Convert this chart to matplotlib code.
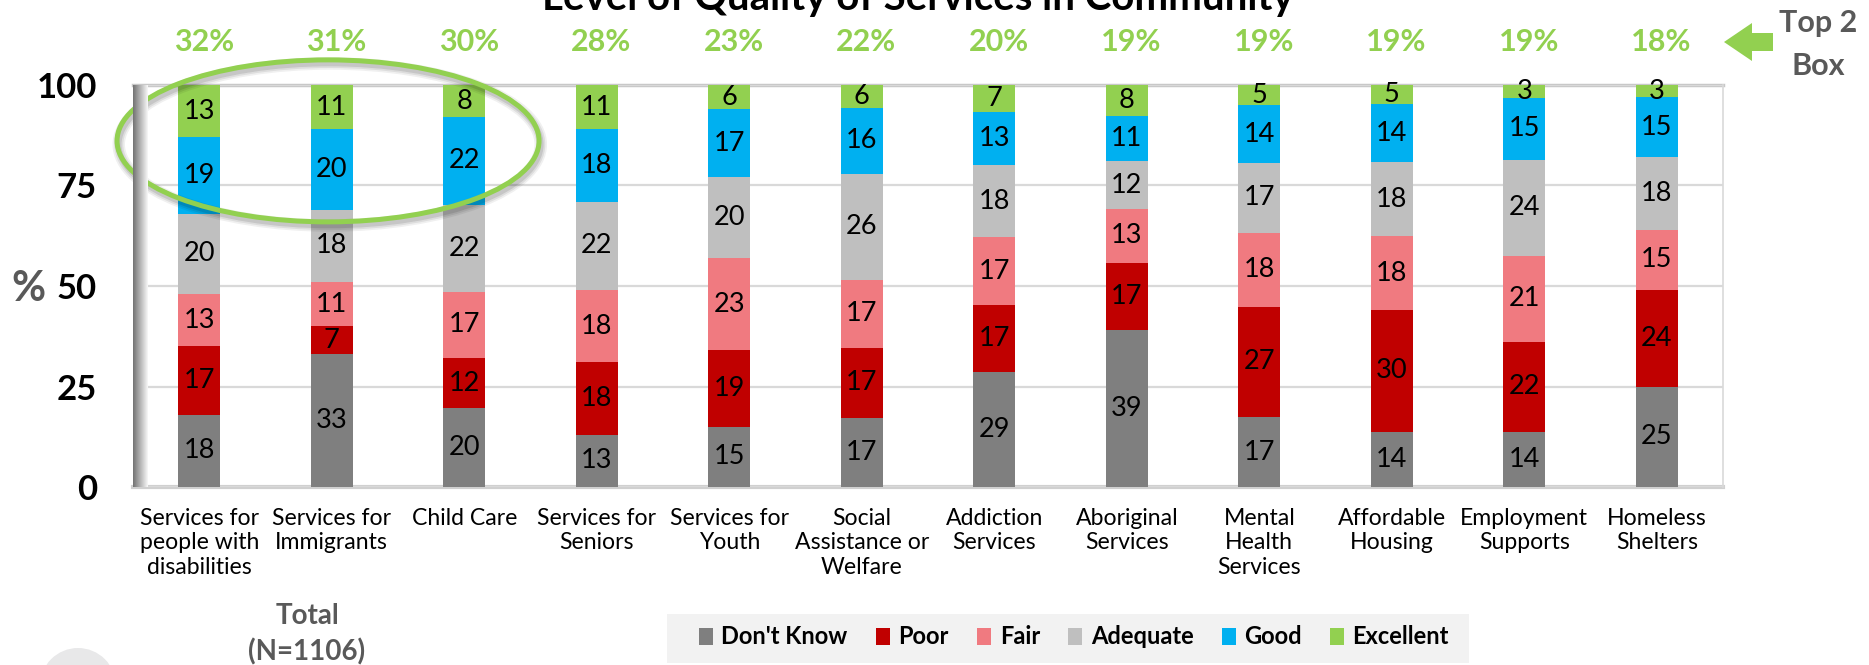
import matplotlib
matplotlib.use("Agg")
import matplotlib.pyplot as plt
import numpy as np
from matplotlib.patches import Ellipse, Polygon, Rectangle

plt.rcParams['font.family'] = ['Lato', 'DejaVu Sans']

W, H = 1869, 665

categories = ["Services for\npeople with\ndisabilities", "Services for\nImmigrants", "Child Care",
              "Services for\nSeniors", "Services for\nYouth", "Social\nAssistance or\nWelfare",
              "Addiction\nServices", "Aboriginal\nServices", "Mental\nHealth\nServices",
              "Affordable\nHousing", "Employment\nSupports", "Homeless\nShelters"]
dont_know = [18, 33, 19.6, 13, 15, 17.2, 28.6, 39, 17.4, 13.8, 13.8, 25]
poor      = [17, 7, 12.4, 18, 19, 17.4, 16.7, 16.8, 27.4, 30.2, 22.3, 24]
fair      = [13, 11, 16.6, 18, 23, 16.9, 16.8, 13.4, 18.4, 18.4, 21.4, 15]
adequate  = [20, 18, 21.6, 22, 20, 26.4, 17.9, 11.8, 17.4, 18.4, 23.9, 18]
good      = [19, 20, 21.8, 18, 17, 16.4, 13.4, 11.4, 14.4, 14.4, 15.4, 15]
excellent = [13, 11, 8.0, 11, 6, 5.7, 6.6, 7.6, 5.0, 4.8, 3.2, 3]
top2_box  = [32, 31, 30, 28, 23, 22, 20, 19, 19, 19, 19, 18]
series_names = ["Don't Know", "Poor", "Fair", "Adequate", "Good", "Excellent"]
colors = ["#7F7F7F", "#C00000", "#F07A80", "#BFBFBF", "#00B0F0", "#92D050"]
yticks = [0, 25, 50, 75, 100]

def fx(px):
    return px / W

def fy(py):
    return 1 - py / H

fig = plt.figure(figsize=(W / 100, H / 100), dpi=100)
ax = fig.add_axes([fx(133), fy(487), (1723 - 133) / W, (487 - 85) / H])

x = np.arange(len(categories))
bottom = np.zeros(len(categories))
for name, vals, col in zip(series_names, [dont_know, poor, fair, adequate, good, excellent], colors):
    vals = np.array(vals, dtype=float)
    bars = ax.bar(x, vals, 0.316, bottom=bottom, color=col, label=name, zorder=3)
    ax.bar_label(bars, labels=[f"{v:.0f}" for v in vals], label_type='center',
                 fontsize=19.5, color='black', zorder=4)
    bottom += vals

ax.set_xlim(-0.5, len(categories) - 0.5)
ax.set_ylim(0, 100)
ax.set_yticks(yticks)
ax.tick_params(axis='y', length=0, pad=26, labelsize=25)
for lbl in ax.get_yticklabels():
    lbl.set_fontweight('bold')
ax.set_xticks(x, categories)
ax.tick_params(axis='x', length=0, pad=15, labelsize=16.6)
ax.grid(axis='y', color='#D9D9D9', lw=1.6, zorder=0)
ax.axhline(100, color='#C8C8C8', lw=2.5, zorder=1, clip_on=False)
ax.axhline(0, color='#D0D0D0', lw=3, zorder=1, clip_on=False)
for s in ['top', 'bottom', 'left']:
    ax.spines[s].set_visible(False)
ax.spines['right'].set_color('#D9D9D9')
ax.spines['right'].set_linewidth(1.2)

# 3D side wall
wall = fig.add_axes([fx(133), fy(487), 15 / W, (487 - 85) / H])
grad = np.linspace(0.45, 0.97, 50).reshape(1, -1)
wall.imshow(grad, aspect='auto', cmap='gray', vmin=0, vmax=1, extent=[0, 1, 0, 1])
wall.set_axis_off()

# Top 2 box values
for i, t in enumerate(top2_box):
    ax.text(i + 0.035, 110.6, f"{t}%", ha='center', va='center', color='#92D050',
            fontsize=22, fontweight='bold', clip_on=False)

# highlight ellipse with shadow
for k, a in enumerate([0.10, 0.08, 0.06]):
    ax.add_patch(Ellipse((0.985, 85.2), 3.185, 40.3, fill=False, ec='black',
                         lw=4 + 2.5 * k, alpha=a, zorder=5, clip_on=False))
ax.add_patch(Ellipse((0.972, 86.1), 3.185, 40.3, fill=False, ec='#92D050',
                     lw=3.6, zorder=6, clip_on=False))

# title (partially cut at the top, as in the reference)
fig.text(fx(918), fy(10), "Level of Quality of Services in Community", ha='center',
         va='baseline', fontsize=29, fontweight='bold', color='black')

fig.text(fx(28), fy(289), "%", ha='center', va='center', fontsize=30,
         fontweight='bold', color='#595959')

# Top 2 Box marker
fig.text(fx(1818), fy(23), "Top 2", ha='center', va='center', fontsize=22,
         fontweight='bold', color='#595959')
fig.text(fx(1818), fy(66), "Box", ha='center', va='center', fontsize=22,
         fontweight='bold', color='#595959')
arrow_px = [(1724, 42), (1752, 23), (1752, 33), (1773, 33), (1773, 51), (1752, 51), (1752, 61)]
fig.add_artist(Polygon([(fx(a), fy(b)) for a, b in arrow_px], closed=True,
                       transform=fig.transFigure, fc='#92D050', ec='none'))

# Total caption
fig.text(fx(307), fy(616), "Total", ha='center', va='center', fontsize=20,
         fontweight='bold', color='#595959')
fig.text(fx(307), fy(652), "(N=1106)", ha='center', va='center', fontsize=20,
         fontweight='bold', color='#595959')

# decorative circle bottom-left
fig.add_artist(Ellipse((fx(78), fy(686)), 2 * 38 / W, 2 * 38 / H,
                       transform=fig.transFigure, fc='#E8E8E9', ec='none'))

# legend background panel
fig.add_artist(Rectangle((fx(667), fy(663)), (1469 - 667) / W, (663 - 614) / H,
                         transform=fig.transFigure, fc='#F2F2F2', ec='none', zorder=0))
leg = fig.legend(loc='center', bbox_to_anchor=(fx(1074), fy(637)), ncol=6,
                 frameon=False, prop={'weight': 'bold', 'size': 17},
                 handlelength=0.6, handleheight=0.75,
                 handletextpad=0.35, columnspacing=1.2, borderpad=0.55, borderaxespad=0)

fig.savefig("out.png", dpi=100)
